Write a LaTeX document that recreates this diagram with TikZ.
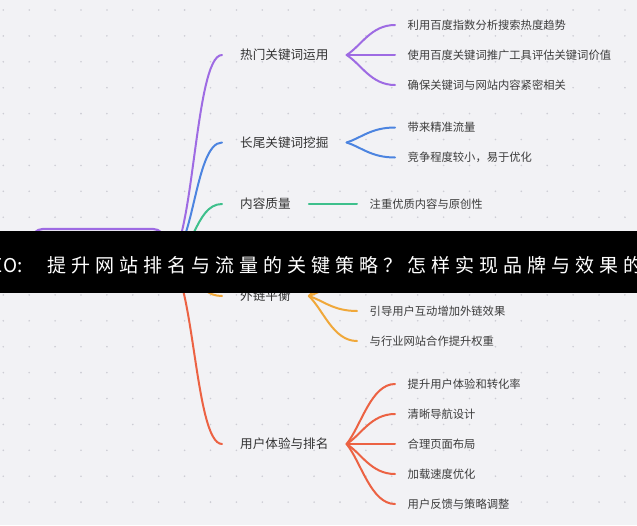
\documentclass[tikz,border=0pt]{standalone}
\usepackage{fontspec}
\setmainfont{Noto Sans CJK SC}
\usetikzlibrary{calc}
\definecolor{bg}{HTML}{F2F2F5}
\definecolor{dotc}{HTML}{CDCDD4}
\definecolor{cpur}{HTML}{9E6BE3}
\definecolor{cblu}{HTML}{4C84E0}
\definecolor{cgrn}{HTML}{3EC08C}
\definecolor{corg}{HTML}{F0A83A}
\definecolor{cred}{HTML}{EC6243}
\definecolor{txa}{HTML}{333333}
\definecolor{txb}{HTML}{3C3C3C}
\begin{document}
\begin{tikzpicture}[x=1pt,y=-1pt,
  l1/.style={anchor=west, inner xsep=18pt, inner ysep=2pt, font=\fontsize{12.6}{15}\selectfont, text=txa},
  l2/.style={anchor=west, inner xsep=12.5pt, inner ysep=2pt, font=\fontsize{11.3}{14}\selectfont, text=txb},
  br/.style={line width=2pt, line cap=round},
  bt/.style={anchor=base, inner sep=0pt, font=\fontsize{19}{22}\selectfont, text=white}]
\useasboundingbox (0,0) rectangle (637,525);
\fill[bg] (0,0) rectangle (637,525);
\foreach \i in {0,...,24}{\foreach \j in {0,...,20}{\fill[dotc] (3.3+25.9*\i,10+25.9*\j) circle[radius=0.9pt];}}
% root
\node[draw=cpur, line width=2.2pt, rounded corners=12pt, fill=bg, minimum width=134pt, minimum height=62pt, inner sep=0pt] (root) at (98,260) {};
% level 1
\node[l1] (n1) at (222,55) {热门关键词运用};
\node[l1] (n2) at (222,142.5) {长尾关键词挖掘};
\node[l1] (n3) at (222,204) {内容质量};
\node[l1] (n4) at (222,296) {外链平衡};
\node[l1] (n5) at (222,444) {用户体验与排名};
% level 2
\node[l2] (a1) at (395,25) {利用百度指数分析搜索热度趋势};
\node[l2] (a2) at (395,55) {使用百度关键词推广工具评估关键词价值};
\node[l2] (a3) at (395,85) {确保关键词与网站内容紧密相关};
\node[l2] (b1) at (395,127.5) {带来精准流量};
\node[l2] (b2) at (395,157.5) {竞争程度较小，易于优化};
\node[l2] (c1) at (357,204) {注重优质内容与原创性};
\coordinate (d1) at (357,251);
\coordinate (d2) at (357,281);
\node[l2] (d3) at (357,311) {引导用户互动增加外链效果};
\node[l2] (d4) at (357,341) {与行业网站合作提升权重};
\node[l2] (e1) at (395,384) {提升用户体验和转化率};
\node[l2] (e2) at (395,414) {清晰导航设计};
\node[l2] (e3) at (395,444) {合理页面布局};
\node[l2] (e4) at (395,474) {加载速度优化};
\node[l2] (e5) at (395,504) {用户反馈与策略调整};
% level 1 connectors
\foreach \n/\col in {n1/cpur,n2/cblu,n3/cgrn,n4/corg,n5/cred}
  \draw[br,\col] (root.east) .. controls +(28,0) and +(-28,0) .. (\n.west);
% level 2 connectors
\foreach \p/\c/\col in {n1/a1/cpur,n1/a2/cpur,n1/a3/cpur,n2/b1/cblu,n2/b2/cblu,n3/c1/cgrn,n4/d3/corg,n4/d4/corg,n5/e1/cred,n5/e2/cred,n5/e3/cred,n5/e4/cred,n5/e5/cred}
  \draw[br,\col] (\p.east) .. controls ($(\p.east)!0.3!(\c.west)$) and ($(\c.west)+(-24,0)$) .. (\c.west);
\foreach \c in {d1,d2}
  \draw[br,corg] (n4.east) .. controls ($(n4.east)!0.3!(\c)$) and ($(\c)+(-24,0)$) .. (\c);
% banner
\fill[black] (0,231) rectangle (637,293);
\node[bt] (te) at (-3,272) {E};
\node[bt] (to) at (11,272) {O};
\node[bt] (tc) at (20,272) {:};
\foreach \c [count=\i from 0] in {提,升,网,站,排,名,与,流,量,的,关,键,策,略,？,怎,样,实,现,品,牌,与,效,果,的}
  \node[bt] (t\i) at (56.5+24*\i,272) {\c};
\end{tikzpicture}
\end{document}
